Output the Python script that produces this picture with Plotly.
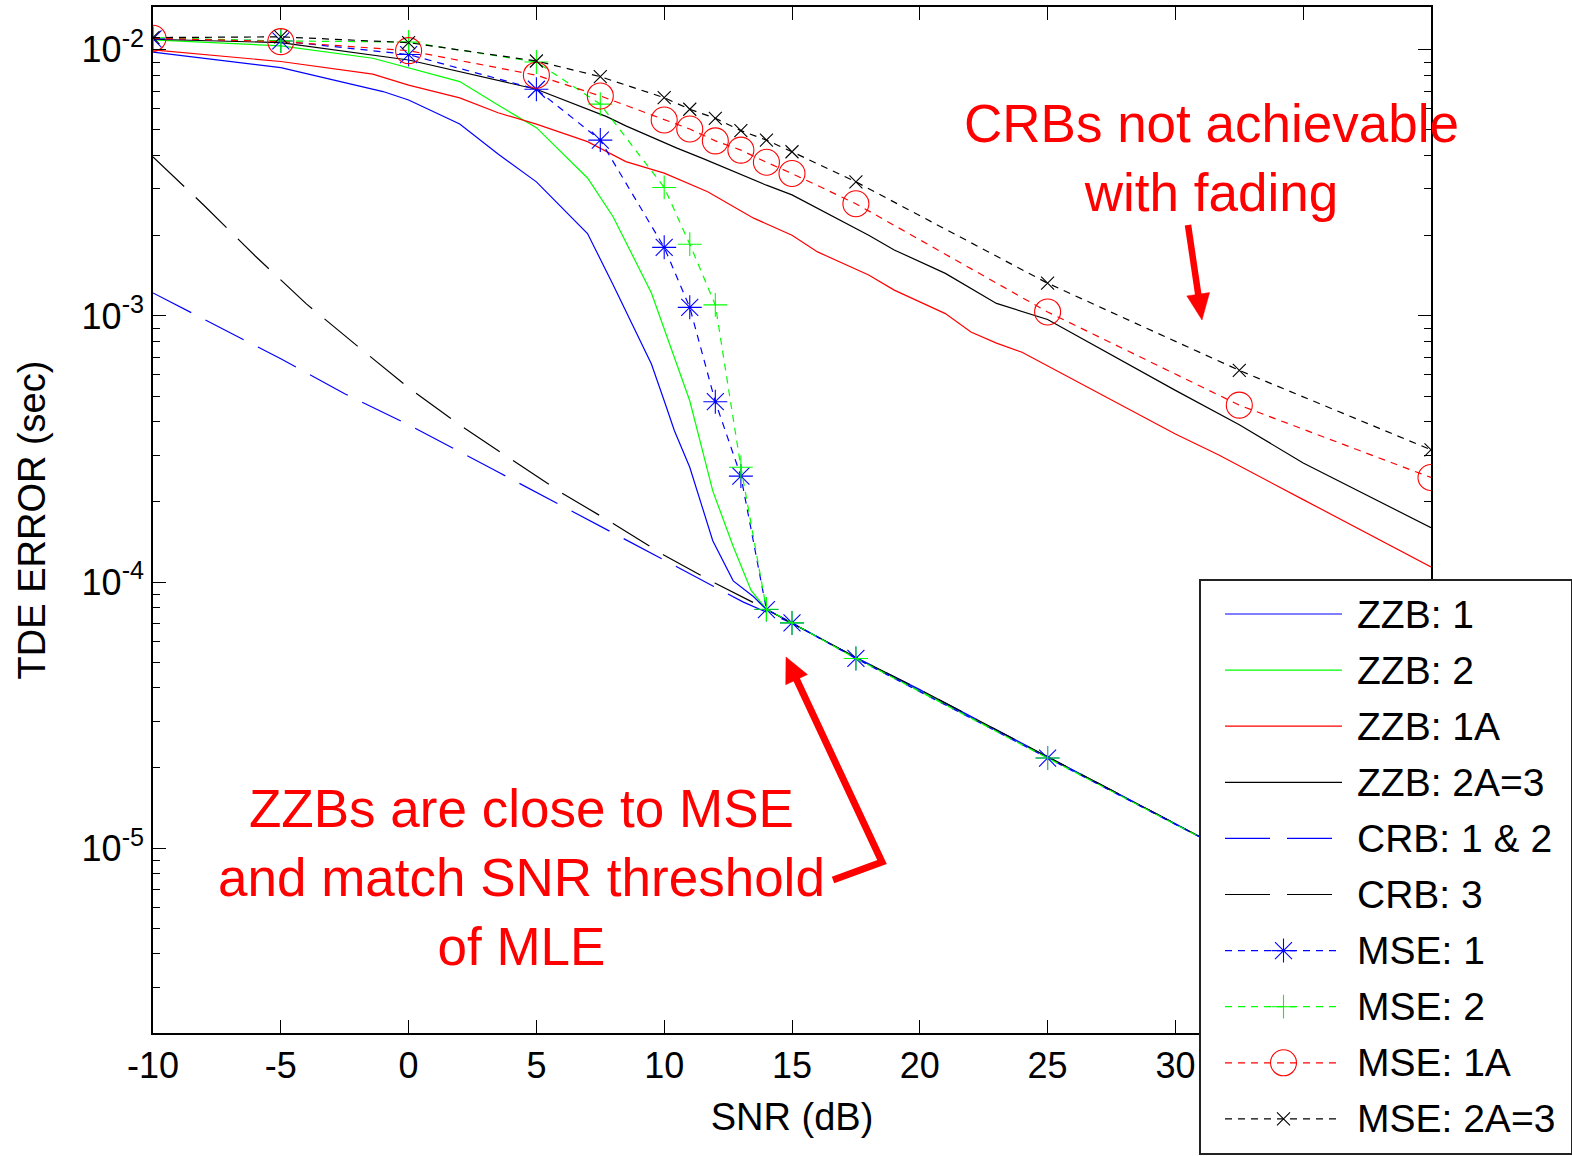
import math
import plotly.graph_objects as go

# ---------------- data ----------------
zzb1_x = [-10, -5, -1, 0, 2, 3.5, 5, 7, 8, 9.5, 10, 10.4, 11, 11.9, 12.7, 13.5, 14, 15, 17.5, 20, 25, 30, 35, 40]
zzb1_y = [0.0098, 0.00857, 0.00697, 0.00648, 0.00526, 0.00406, 0.00319, 0.00204, 0.00131, 6.6e-4, 4.8e-4,
          3.7e-4, 2.7e-4, 1.43e-4, 1.01e-4, 8.8e-5, 7.9e-5, 7.0e-5, 5.2e-5, 3.9e-5, 2.2e-5, 1.23e-5, 6.9e-6, 3.9e-6]

zzb2_x = [-10, -5, -1.4, 2, 3.5, 5, 7, 8, 9.5, 11, 11.9, 12.7, 13.4, 14, 15, 17.5, 20, 25, 30, 35, 40]
zzb2_y = [0.0109, 0.01035, 0.0093, 0.0076, 0.0062, 0.0051, 0.0033, 0.00236, 0.00122, 4.8e-4, 2.2e-4,
          1.36e-4, 9.3e-5, 7.9e-5, 7.0e-5, 5.2e-5, 3.9e-5, 2.2e-5, 1.23e-5, 6.9e-6, 3.9e-6]

zzb1a_x = [-10, -5, -1.4, 0, 2, 3.5, 5, 7, 8.5, 10, 11.7, 13.5, 15, 16, 18, 19, 21, 22, 23, 24, 30, 31.7, 35, 40]
zzb1a_y = [0.0100, 0.00904, 0.0081, 0.00737, 0.0066, 0.0058, 0.00526, 0.00452, 0.0038, 0.00344, 0.00293,
           0.00233, 0.00201, 0.00174, 0.001425, 0.00125, 0.00102, 8.7e-4, 7.9e-4, 7.3e-4, 3.6e-4, 3.0e-4,
           2.04e-4, 1.14e-4]

zzb2a3_x = [-10, -5, 0, 3.5, 5, 7.75, 8.5, 10.5, 11.5, 14, 15, 18, 19, 21, 23, 25, 30, 32.5, 35, 40]
zzb2a3_y = [0.01096, 0.01064, 0.00916, 0.0077, 0.00711, 0.00561, 0.00518, 0.00427, 0.00391, 0.0031, 0.00285,
            0.00201, 0.00177, 0.001445, 0.001114, 9.7e-4, 5.25e-4, 3.9e-4, 2.8e-4, 1.6e-4]

crb12_x = [-10, -7.5, -5, -2.5, 0, 3.5, 6.7, 8.8, 11, 13.1, 15, 17.5, 20, 25, 30, 35, 40]
crb12_y = [1.22e-3, 9.2e-4, 6.9e-4, 5.1e-4, 3.9e-4, 2.59e-4, 1.78e-4, 1.40e-4, 1.08e-4, 8.4e-5, 7.0e-5,
           5.2e-5, 3.94e-5, 2.2e-5, 1.23e-5, 6.9e-6, 3.9e-6]

crb3_x = [-10, -8, -6, -4, -2, 0, 2, 4, 6, 8, 10, 12, 14, 15, 17.5, 20, 25, 30, 35, 40]
crb3_y = [3.96e-3, 2.6e-3, 1.68e-3, 1.11e-3, 7.7e-4, 5.37e-4, 3.89e-4, 2.89e-4, 2.16e-4, 1.66e-4, 1.26e-4,
          9.9e-5, 7.9e-5, 7.0e-5, 5.2e-5, 3.94e-5, 2.2e-5, 1.23e-5, 6.9e-6, 3.9e-6]

mse_x = [-10, -5, 0, 5, 7.5, 10, 11, 12, 13, 14, 15, 17.5, 25, 32.5, 40]
mse1_y = [0.0110, 0.0108, 0.0096, 0.00711, 0.00458, 0.00181, 0.001077, 4.76e-4, 2.50e-4, 7.88e-5, 7.02e-5,
          5.16e-5, 2.18e-5, 9.2e-6, 3.9e-6]
mse2_y = [0.0111, 0.0108, 0.0107, 0.0090, 0.00625, 0.00304, 0.00186, 0.0011, 2.70e-4, 7.9e-5, 7.02e-5,
          5.16e-5, 2.18e-5, 9.2e-6, 3.9e-6]
mse1a_y = [0.01105, 0.01074, 0.00993, 0.00803, 0.00671, 0.00545, 0.00504, 0.00455, 0.00420, 0.00378,
           0.00343, 0.00264, 0.001035, 4.62e-4, 2.47e-4]
mse2a3_y = [0.01112, 0.01119, 0.01064, 0.00908, 0.00793, 0.00661, 0.00598, 0.00553, 0.00497, 0.00458,
            0.00414, 0.00319, 0.001327, 6.24e-4, 3.14e-4]

series_names = ["ZZB: 1", "ZZB: 2", "ZZB: 1A", "ZZB: 2A=3", "CRB: 1 & 2", "CRB: 3",
                "MSE: 1", "MSE: 2", "MSE: 1A", "MSE: 2A=3"]

x_tick_vals = [-10, -5, 0, 5, 10, 15, 20, 25, 30, 35, 40]
# the labels of 35 and 40 sit under the legend box in the reference, so they are left blank
x_tick_text = ["-10", "-5", "0", "5", "10", "15", "20", "25", "30", "", ""]
y_tick_vals = [1e-5, 1e-4, 1e-3, 1e-2]
y_tick_text = ["10<sup>-5</sup>", "10<sup>-4</sup>", "10<sup>-3</sup>", "10<sup>-2</sup>"]

annot_top = "CRBs not achievable<br>with fading"
annot_bottom = "ZZBs are close to MSE<br>and match SNR threshold<br>of MLE"

# ---------------- styles ----------------
BLUE, GREEN, RED, BLACK = "#0000ff", "#00ff00", "#ff0000", "#000000"
FONT = "Liberation Sans, Arial, Helvetica, sans-serif"
LONG_DASH = "43px,16px"
SHORT_DASH = "7px,6px"

data = [
    (zzb1_x, zzb1_y), (zzb2_x, zzb2_y), (zzb1a_x, zzb1a_y), (zzb2a3_x, zzb2a3_y),
    (crb12_x, crb12_y), (crb3_x, crb3_y),
    (mse_x, mse1_y), (mse_x, mse2_y), (mse_x, mse1a_y), (mse_x, mse2a3_y),
]
styles = [
    dict(color=BLUE, dash="solid", symbol=None, size=0),
    dict(color=GREEN, dash="solid", symbol=None, size=0),
    dict(color=RED, dash="solid", symbol=None, size=0),
    dict(color=BLACK, dash="solid", symbol=None, size=0),
    dict(color=BLUE, dash=LONG_DASH, symbol=None, size=0),
    dict(color=BLACK, dash=LONG_DASH, symbol=None, size=0),
    dict(color=BLUE, dash=SHORT_DASH, symbol="asterisk-open", size=20),
    dict(color=GREEN, dash=SHORT_DASH, symbol="cross-thin-open", size=17),
    dict(color=RED, dash=SHORT_DASH, symbol="circle-open", size=26),
    dict(color=BLACK, dash=SHORT_DASH, symbol="x-thin-open", size=13),
]

# ---------------- geometry (pixels) ----------------
W, H = 1572, 1156
ML, MR, MT, MB = 153, 1, 7, 2
PW, PH = W - ML - MR, H - MT - MB
PLOT_R, PLOT_B = 1431, 1033
LEG = (1201, 581, 1571, 1153)  # legend box x0, y0, x1, y1


def pxp(px, py):
    return (px - ML) / PW, (H - MB - py) / PH


main_xdom = [0, (PLOT_R - ML) / PW]
main_ydom = [(H - MB - PLOT_B) / PH, 1]
leg_xdom = [(LEG[0] - ML) / PW, min(1.0, (LEG[2] - ML) / PW)]
leg_ydom = [max(0.0, (H - MB - LEG[3]) / PH), (H - MB - LEG[1]) / PH]

fig = go.Figure()

for name, (xs, ys), st in zip(series_names, data, styles):
    mode = "lines+markers" if st["symbol"] else "lines"
    tr = go.Scatter(x=xs, y=ys, mode=mode, name=name,
                    line=dict(color=st["color"], width=1.2, dash=st["dash"]))
    if st["symbol"]:
        tr.marker = dict(symbol=st["symbol"], size=st["size"], color=st["color"],
                         line=dict(color=st["color"], width=1.1))
    fig.add_trace(tr)

# ---------------- custom legend (inset subplot) ----------------
leg_h = LEG[3] - LEG[1]
leg_w = LEG[2] - LEG[0]
sx0 = (1225 - LEG[0]) / leg_w
sx1 = (1342 - LEG[0]) / leg_w
smid = (sx0 + sx1) / 2
tx = (1355 - LEG[0]) / leg_w
row0 = 614
row_step = 56.1
annotations = []
for i, (name, st) in enumerate(zip(series_names, styles)):
    ry = (LEG[3] - (row0 + i * row_step)) / leg_h
    dash = st["dash"]
    if dash == LONG_DASH:
        dash = "45px,17px"
    fig.add_trace(go.Scatter(x=[sx0, sx1], y=[ry, ry], mode="lines", xaxis="x2", yaxis="y2",
                             line=dict(color=st["color"], width=1.2, dash=dash), hoverinfo="skip"))
    if st["symbol"]:
        fig.add_trace(go.Scatter(x=[smid], y=[ry], mode="markers", xaxis="x2", yaxis="y2",
                                 marker=dict(symbol=st["symbol"], size=st["size"], color=st["color"],
                                             line=dict(color=st["color"], width=1.1)),
                                 hoverinfo="skip"))
    annotations.append(dict(x=tx, y=ry, xref="x2", yref="y2", text=name, showarrow=False,
                            xanchor="left", yanchor="middle",
                            font=dict(family=FONT, size=39, color="black")))

# ---------------- red text annotations ----------------
ax, ay = pxp(1211, 158)
annotations.append(dict(x=ax, y=ay, xref="paper", yref="paper", text=annot_top, showarrow=False,
                        xanchor="center", yanchor="middle", align="center",
                        font=dict(family=FONT, size=53, color=RED)))
ax, ay = pxp(521, 877)
annotations.append(dict(x=ax, y=ay, xref="paper", yref="paper", text=annot_bottom, showarrow=False,
                        xanchor="center", yanchor="middle", align="center",
                        font=dict(family=FONT, size=53, color=RED)))

# ---------------- arrows (shapes) ----------------
shapes = []


def arrow(points, width, head_len, head_w):
    # points: list of pixel (x, y); last one is the tip
    (x0, y0), (x1, y1) = points[-2], points[-1]
    L = math.hypot(x1 - x0, y1 - y0)
    ux, uy = (x1 - x0) / L, (y1 - y0) / L
    bx, by = x1 - ux * head_len, y1 - uy * head_len
    pts = points[:-1] + [(bx + ux * 2, by + uy * 2)]
    p = " ".join(("M" if k == 0 else "L") + " {:.5f},{:.5f}".format(*pxp(*q)) for k, q in enumerate(pts))
    shapes.append(dict(type="path", path=p, xref="paper", yref="paper",
                       line=dict(color=RED, width=width), fillcolor="rgba(0,0,0,0)"))
    nx, ny = -uy, ux
    c1 = pxp(bx + nx * head_w / 2, by + ny * head_w / 2)
    c2 = pxp(bx - nx * head_w / 2, by - ny * head_w / 2)
    tp = pxp(x1, y1)
    tri = "M {:.5f},{:.5f} L {:.5f},{:.5f} L {:.5f},{:.5f} Z".format(*tp, *c1, *c2)
    shapes.append(dict(type="path", path=tri, xref="paper", yref="paper",
                       line=dict(color=RED, width=0.5), fillcolor=RED))


arrow([(1188, 225), (1202, 320)], 6.5, 26, 23)
arrow([(833, 880), (882, 862), (786, 657)], 7, 25, 24)

# ---------------- minor ticks for log axis ----------------
minor_vals = []
for e in range(-6, -1):
    for m in range(2, 10):
        v = m * 10 ** e
        if 2e-6 <= v <= 1.45e-2:
            minor_vals.append(v)

axis_common = dict(showline=True, linecolor="black", linewidth=1.5, mirror="ticks",
                   ticks="inside", ticklen=13, tickwidth=1, tickcolor="black",
                   showgrid=False, zeroline=False,
                   tickfont=dict(family=FONT, size=36, color="black"))

fig.update_layout(
    width=W, height=H,
    margin=dict(l=ML, r=MR, t=MT, b=MB, autoexpand=False),
    paper_bgcolor="white", plot_bgcolor="white",
    showlegend=False,
    font=dict(family=FONT, size=36, color="black"),
    xaxis=dict(domain=main_xdom, range=[-10, 40], tickmode="array", tickvals=x_tick_vals,
               ticktext=x_tick_text,
               title=dict(text="SNR (dB)", font=dict(family=FONT, size=38, color="black"), standoff=18),
               **axis_common),
    yaxis=dict(domain=main_ydom, type="log", range=[-5.695, -1.839], tickmode="array",
               tickvals=y_tick_vals, ticktext=y_tick_text,
               minor=dict(tickmode="array", tickvals=minor_vals, ticks="inside", ticklen=7,
                          tickwidth=1, tickcolor="black", showgrid=False),
               title=dict(text="TDE ERROR (sec)", font=dict(family=FONT, size=38, color="black"), standoff=24),
               **axis_common),
    xaxis2=dict(domain=leg_xdom, range=[0, 1], anchor="y2", showline=True, mirror=True,
                linecolor="#222222", linewidth=1.5, showgrid=False, zeroline=False,
                showticklabels=False, ticks="", fixedrange=True),
    yaxis2=dict(domain=leg_ydom, range=[0, 1], anchor="x2", showline=True, mirror=True,
                linecolor="#222222", linewidth=1.5, showgrid=False, zeroline=False,
                showticklabels=False, ticks="", fixedrange=True),
    annotations=annotations,
    shapes=shapes,
)

fig.write_html("out.html")
